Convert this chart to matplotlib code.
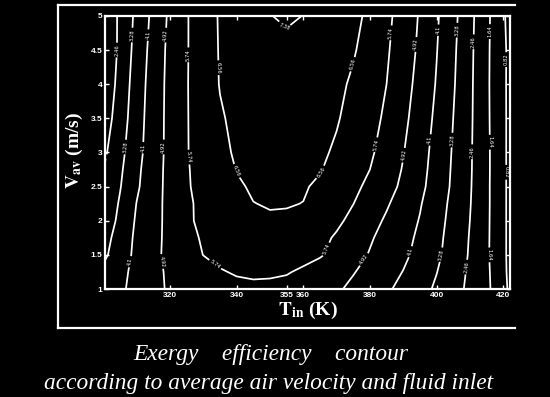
import matplotlib
matplotlib.use('Agg')
import matplotlib.pyplot as plt
from matplotlib.lines import Line2D
import numpy as np

plt.rcParams['mathtext.fontset'] = 'stix'

# inlet temperature (K) and average air velocity (m/s) of the grid
t_in = [300, 305, 310, 315, 320, 325, 330, 335, 340, 345, 350, 355, 360,
        365, 370, 375, 380, 385, 390, 395, 400, 405, 410, 415, 420, 422]
v_av = [1.0, 1.25, 1.5, 1.75, 2.0, 2.25, 2.5, 2.75, 3.0, 3.5, 4.0, 4.5, 5.0]

# exergy efficiency, one row per v_av
eff = [
    [3.60, 3.97, 4.34, 4.71, 5.02, 5.22, 5.38, 5.50, 5.57, 5.60, 5.58, 5.52, 5.40,
     5.24, 5.02, 4.76, 4.48, 4.21, 3.89, 3.54, 3.17, 2.74, 2.30, 1.83, 1.02, 0.70],
    [3.45, 3.89, 4.32, 4.73, 5.04, 5.25, 5.46, 5.69, 5.80, 5.85, 5.84, 5.79, 5.63,
     5.41, 5.18, 4.96, 4.68, 4.38, 4.08, 3.69, 3.30, 2.83, 2.34, 1.80, 1.00, 0.64],
    [3.11, 3.73, 4.28, 4.74, 5.12, 5.44, 5.75, 5.91, 6.02, 6.08, 6.10, 6.06, 5.96,
     5.81, 5.53, 5.20, 4.87, 4.56, 4.25, 3.87, 3.43, 2.93, 2.39, 1.77, 0.97, 0.64],
    [2.95, 3.64, 4.25, 4.71, 5.12, 5.50, 5.83, 6.03, 6.18, 6.27, 6.30, 6.26, 6.14,
     5.94, 5.65, 5.33, 5.00, 4.67, 4.34, 3.96, 3.49, 2.97, 2.42, 1.78, 0.97, 0.64],
    [2.76, 3.47, 4.20, 4.67, 5.14, 5.59, 5.94, 6.17, 6.35, 6.45, 6.50, 6.47, 6.36,
     6.17, 5.89, 5.54, 5.18, 4.82, 4.45, 4.06, 3.56, 3.03, 2.46, 1.79, 0.97, 0.64],
    [2.68, 3.36, 4.12, 4.65, 5.15, 5.63, 5.90, 6.11, 6.33, 6.55, 6.595, 6.595, 6.55,
     6.27, 6.03, 5.75, 5.37, 5.00, 4.59, 4.16, 3.64, 3.08, 2.50, 1.80, 0.97, 0.64],
    [2.60, 3.24, 3.99, 4.61, 5.16, 5.67, 5.96, 6.22, 6.48, 6.63, 6.68, 6.67, 6.62,
     6.45, 6.18, 5.90, 5.58, 5.19, 4.77, 4.29, 3.74, 3.15, 2.53, 1.80, 0.97, 0.64],
    [2.42, 3.15, 3.93, 4.58, 5.16, 5.68, 6.00, 6.30, 6.58, 6.70, 6.77, 6.775, 6.72,
     6.60, 6.34, 6.04, 5.74, 5.31, 4.87, 4.36, 3.79, 3.18, 2.55, 1.81, 0.97, 0.64],
    [2.29, 3.05, 3.84, 4.54, 5.15, 5.70, 6.05, 6.40, 6.64, 6.76, 6.83, 6.85, 6.80,
     6.68, 6.46, 6.16, 5.85, 5.44, 4.95, 4.41, 3.84, 3.21, 2.56, 1.81, 0.97, 0.64],
    [2.02, 2.87, 3.75, 4.52, 5.15, 5.70, 6.10, 6.49, 6.71, 6.85, 6.93, 6.95, 6.91,
     6.80, 6.62, 6.32, 5.99, 5.61, 5.10, 4.55, 3.94, 3.28, 2.59, 1.79, 0.97, 0.64],
    [1.78, 2.75, 3.67, 4.48, 5.15, 5.70, 6.16, 6.59, 6.79, 6.935, 7.02, 7.05, 7.01,
     6.91, 6.73, 6.45, 6.10, 5.74, 5.23, 4.67, 4.05, 3.36, 2.61, 1.78, 0.96, 0.64],
    [1.66, 2.64, 3.57, 4.41, 5.13, 5.69, 6.17, 6.61, 6.87, 7.05, 7.16, 7.20, 7.16,
     7.06, 6.88, 6.63, 6.25, 5.83, 5.33, 4.78, 4.13, 3.42, 2.64, 1.79, 0.97, 0.64],
    [1.76, 2.61, 3.47, 4.31, 5.07, 5.69, 6.17, 6.63, 6.98, 7.22, 7.36, 7.48, 7.37,
     7.27, 7.07, 6.78, 6.38, 5.92, 5.41, 4.85, 4.20, 3.50, 2.68, 1.83, 0.93, 0.56],
]

levels = [0.82, 1.64, 2.46, 3.28, 4.1, 4.92, 5.74, 6.56, 7.38]
x_ticks = [320, 340, 355, 360, 380, 400, 420]
y_ticks = [1, 1.5, 2, 2.5, 3, 3.5, 4, 4.5, 5]

# where the contour labels sit (T, V)
label_pos = [
    (304.1, 4.50), (301.3, 2.86),
    (308.3, 4.72), (306.5, 3.08),
    (313.1, 4.72), (311.3, 3.07), (308.0, 1.40),
    (317.9, 4.72), (317.9, 3.08), (317.0, 1.40),
    (325.1, 4.43), (325.1, 2.93), (332.9, 1.32), (367.4, 1.57),
    (382.2, 3.11), (386.7, 4.75),
    (333.8, 4.24), (338.9, 2.71), (365.6, 2.70), (375.6, 4.28),
    (354.5, 4.85),
    (394.2, 4.58), (390.0, 2.96), (378.6, 1.42),
    (400.5, 4.79), (398.7, 3.18), (392.7, 1.54),
    (406.5, 4.79), (405.0, 3.18), (401.7, 1.50),
    (411.3, 4.62), (410.7, 3.01), (409.2, 1.32),
    (416.1, 4.77), (416.1, 3.15), (416.1, 1.50),
    (420.8, 4.36), (420.8, 2.71),
]

fig = plt.figure(figsize=(5.5, 3.97), dpi=100, facecolor='black')
ax = fig.add_axes([0.191, 0.272, 0.736, 0.688])
ax.set_facecolor('black')

cs = ax.contour(t_in, v_av, np.array(eff), levels=levels, colors='white',
                linewidths=1.25)
ax.set_xlim(300.5, 422)
ax.set_ylim(1, 5)

lab = ax.clabel(cs, fmt='%g', fontsize=3.8, inline=True, inline_spacing=1.5,
                manual=label_pos)
for t in lab:
    t.set_color('white')

ax.set_xticks(x_ticks)
ax.set_xticklabels([str(v) for v in x_ticks])
ax.set_yticks(y_ticks)
ax.set_yticklabels(['%g' % v for v in y_ticks])
ax.tick_params(direction='in', colors='white', length=3, width=1,
               top=True, right=True, labelsize=6, pad=2)
for lbl in ax.get_xticklabels() + ax.get_yticklabels():
    lbl.set_fontweight('bold')
    lbl.set_family('Liberation Sans')
for sp in ax.spines.values():
    sp.set_color('white')
    sp.set_linewidth(1.6)

fig.text(0.56, 0.219, r'$\mathbf{T_{in}}$ (K)', ha='center', va='center',
         color='white', fontsize=14, fontweight='bold', family='Liberation Serif')
fig.text(0.1345, 0.622, r'$\mathbf{V_{av}}$ (m/s)', ha='center', va='center',
         rotation=90, color='white', fontsize=14, fontweight='bold',
         family='Liberation Serif')

# outer frame (right side cut off in the original)
fl, fr, fb, ft = 0.1055, 0.936, 0.174, 0.987
for xs, ys in [([fl, fl], [fb, ft]), ([fl, fr], [ft, ft]), ([fl, fr], [fb, fb])]:
    fig.add_artist(Line2D(xs, ys, transform=fig.transFigure, color='white', lw=1.6))

fig.text(0.493, 0.106, 'Exergy    efficiency    contour', ha='center', va='center',
         color='white', fontsize=16.8, style='italic', family='Liberation Serif')
fig.text(0.489, 0.035, 'according to average air velocity and fluid inlet',
         ha='center', va='center', color='white', fontsize=16.8, style='italic',
         family='Liberation Serif')

fig.savefig('out.png', dpi=100, facecolor='black')
